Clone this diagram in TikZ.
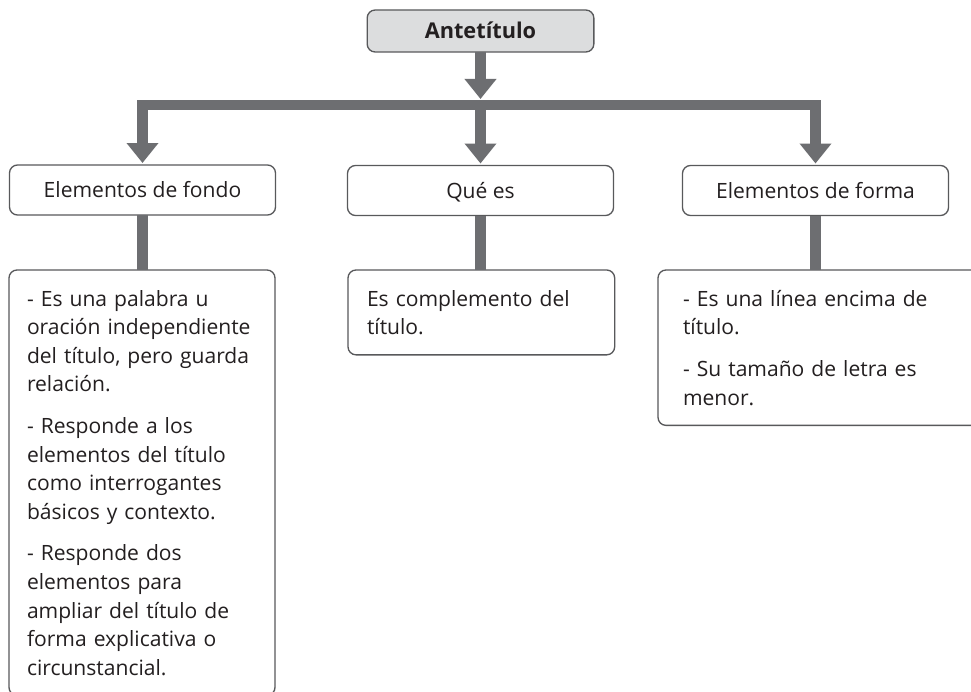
\documentclass[tikz,border=0pt]{standalone}
\usepackage{fontspec}
\setmainfont{Open Sans}
\usetikzlibrary{arrows.meta,positioning}
\definecolor{bargray}{RGB}{109,110,113}
\definecolor{boxline}{RGB}{88,89,91}
\definecolor{headfill}{RGB}{220,221,222}
\definecolor{inkgray}{RGB}{35,31,32}
\newcommand{\boxfont}{\fontsize{15.8}{21.4}\selectfont}

\begin{document}
\begin{tikzpicture}[x=0.75pt,y=-0.75pt,% pixel grid, y going down
		every node/.style={
			font=\boxfont,
			text=inkgray,
			outer sep=0pt
		},
		box/.style={rectangle,rounded corners=6pt,draw=boxline,line width=1pt,fill=white},
		topic/.style={box,minimum width=199.5pt,minimum height=37.5pt,text height=11.5pt,text depth=0pt},
		note/.style={box,align=left,anchor=north west,inner ysep=15pt},
		bar/.style={draw=bargray,line width=8pt,line join=miter},
		arrow/.style={bar,-{Triangle[width=23pt,length=15pt]},shorten >=1.5pt}
	]
	\clip (0,0) rectangle (971,692);
	\fill[white] (0,0) rectangle (971,692);

	% title
	\node[box,fill=headfill,minimum width=170pt,minimum height=31.5pt,font=\fontsize{16.3}{20}\selectfont\bfseries,text height=11.8pt,text depth=0pt] (head) at (480.5,31) {Antetítulo};
	\coordinate (busTop) at (480.5,99);
	\coordinate (bus) at (480.5,105);

	% second row
	\node[topic] (fondo) at (142.5,190) {Elementos de fondo};
	\node[topic] (quees) at (480.5,190.5) {Qué es};
	\node[topic] (forma) at (815.5,190.5) {Elementos de forma};

	% third row
	\node[note,inner xsep=13.5pt,text width=172.5pt] (fondotxt) at (9,270) {%
		- Es una palabra u\\
		oración independiente\\
		del título, pero guarda\\
		relación.\\[10pt]
		- Responde a los\\
		elementos del título\\
		como interrogantes\\
		básicos y contexto.\\[10pt]
		- Responde dos\\
		elementos para\\
		ampliar del título de\\
		forma explicativa o\\
		circunstancial.};
	\node[note,inner xsep=14.25pt,text width=171.5pt] (queestxt) at (348,270) {Es complemento del\\título.};
	\node[note,inner xsep=18.75pt,text width=250pt] (formatxt) at (658,270) {%
		- Es una línea encima de\\
		título.\\[10pt]
		- Su tamaño de letra es\\
		menor.};

	% connectors
	\draw[arrow,shorten >=0pt] (head) -- (busTop);
	\draw[arrow] (bus) -| (fondo);
	\draw[arrow] (bus) -- (quees);
	\draw[arrow] (bus) -| (forma);
	\draw[bar] (fondo.south) -- (fondo.south |- fondotxt.north);
	\draw[bar] (quees.south) -- (quees.south |- queestxt.north);
	\draw[bar] (forma.south) -- (forma.south |- formatxt.north);
\end{tikzpicture}
\end{document}
